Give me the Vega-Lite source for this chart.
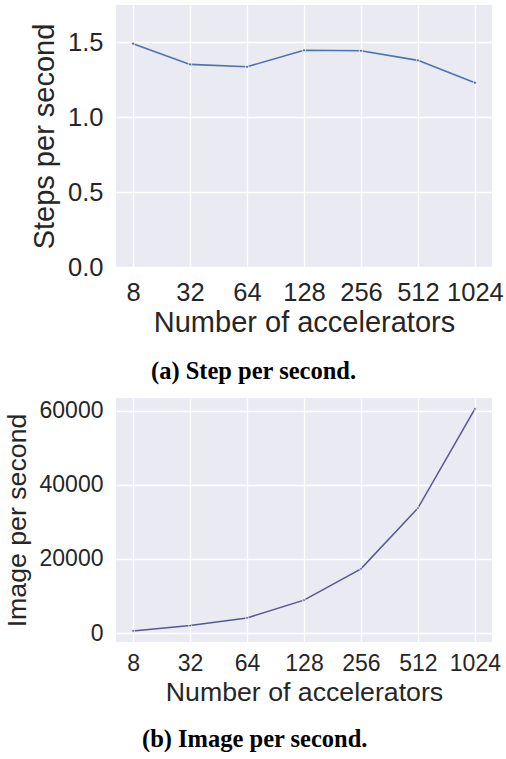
{
  "$schema": "https://vega.github.io/schema/vega-lite/v6.json",
  "padding": {"left": 4, "top": 5, "right": 0, "bottom": 0},
  "background": "white",
  "datasets": {
    "steps": [
      {"acc": 8, "steps": 1.489},
      {"acc": 32, "steps": 1.351},
      {"acc": 64, "steps": 1.335},
      {"acc": 128, "steps": 1.445},
      {"acc": 256, "steps": 1.442},
      {"acc": 512, "steps": 1.378},
      {"acc": 1024, "steps": 1.229}
    ],
    "images": [
      {"acc": 8, "images": 560},
      {"acc": 32, "images": 2000},
      {"acc": 64, "images": 4080},
      {"acc": 128, "images": 8880},
      {"acc": 256, "images": 17300},
      {"acc": 512, "images": 33700},
      {"acc": 1024, "images": 60450}
    ]
  },
  "config": {
    "font": "Liberation Sans",
    "view": {"fill": "#EAEAF2", "stroke": null},
    "axis": {
      "domain": false,
      "ticks": false,
      "tickSize": 0,
      "grid": true,
      "gridColor": "#FFFFFF",
      "gridWidth": 1.3,
      "gridOpacity": 1,
      "labelColor": "#262626",
      "titleColor": "#262626",
      "labelFont": "Liberation Sans",
      "titleFont": "Liberation Sans",
      "titleFontWeight": "normal"
    },
    "title": {
      "font": "Liberation Serif",
      "fontWeight": "bold",
      "fontSize": 24.5,
      "color": "#000000",
      "orient": "bottom",
      "anchor": "start",
      "frame": "group"
    }
  },
  "spacing": 15,
  "vconcat": [
    {
      "width": 376,
      "height": 262,
      "title": {"text": "(a) Step per second.", "orient": "bottom", "anchor": "start", "frame": "group", "offset": 22, "dx": 35},
      "data": {"name": "steps"},
      "encoding": {
        "x": {
          "field": "acc",
          "type": "ordinal",
          "scale": {"type": "point", "padding": 0.3},
          "axis": {"title": "Number of accelerators", "labelAngle": 0, "labelFontSize": 25.5, "titleFontSize": 29, "labelPadding": 13, "titlePadding": 3}
        },
        "y": {
          "field": "steps",
          "type": "quantitative",
          "scale": {"domain": [0, 1.747], "nice": false, "zero": false},
          "axis": {"title": "Steps per second", "values": [0, 0.5, 1, 1.5], "format": ".1f", "labelFontSize": 25.5, "titleFontSize": 29, "labelPadding": 13, "titlePadding": 8}
        }
      },
      "layer": [
        {"mark": {"type": "line", "color": "#4C72B0", "strokeWidth": 1.6}},
        {"mark": {"type": "point", "filled": true, "fill": "#4C72B0", "stroke": "#FFFFFF", "strokeWidth": 0.8, "size": 10, "opacity": 1}}
      ]
    },
    {
      "width": 376,
      "height": 244,
      "title": {"text": "(b) Image per second.", "orient": "bottom", "anchor": "start", "frame": "group", "offset": 22, "dx": 26},
      "data": {"name": "images"},
      "encoding": {
        "x": {
          "field": "acc",
          "type": "ordinal",
          "scale": {"type": "point", "padding": 0.3},
          "axis": {"title": "Number of accelerators", "labelAngle": 0, "labelFontSize": 23, "titleFontSize": 26.7, "labelPadding": 10, "titlePadding": 4}
        },
        "y": {
          "field": "images",
          "type": "quantitative",
          "scale": {"domain": [-2420, 63390], "nice": false, "zero": false},
          "axis": {"title": "Image per second", "values": [0, 20000, 40000, 60000], "format": "d", "labelFontSize": 23, "titleFontSize": 26.7, "labelPadding": 13, "titlePadding": 8}
        }
      },
      "layer": [
        {"mark": {"type": "line", "color": "#55598F", "strokeWidth": 1.5}},
        {"mark": {"type": "point", "filled": true, "fill": "#55598F", "stroke": "#FFFFFF", "strokeWidth": 0.8, "size": 8, "opacity": 1}}
      ]
    }
  ]
}
